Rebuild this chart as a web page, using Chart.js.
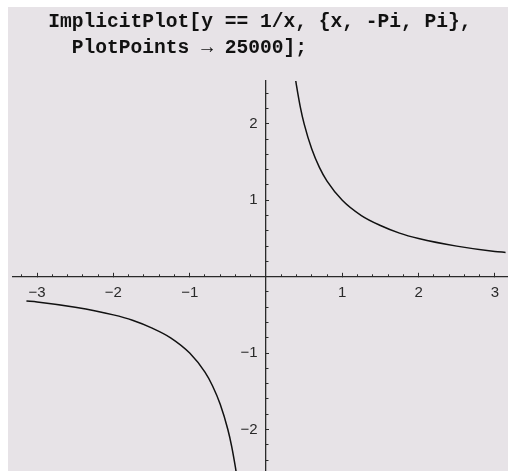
<!DOCTYPE html>
<html>
<head>
<meta charset="utf-8">
<script src="https://cdn.jsdelivr.net/npm/chart.js@4"></script>
<style>
  html, body { margin: 0; padding: 0; background: #ffffff; }
  #wrap { position: absolute; left: 8px; top: 7px; width: 500px; height: 464px; background: #e7e3e7; }
</style>
</head>
<body>
<div id="wrap"><canvas id="c"></canvas></div>
<script>
// ---- data ----
const titleLines = ["   ImplicitPlot[y == 1/x, {x, -Pi, Pi},", "     PlotPoints \u2192 25000];"];

// right branch (x > 0)
const xPos = [0.38, 0.40, 0.45, 0.50, 0.60, 0.70, 0.80, 1.00, 1.25, 1.50, 1.75, 2.00, 2.50, 3.00, 3.14];
const yPos = [2.63, 2.50, 2.22, 2.00, 1.67, 1.43, 1.25, 1.00, 0.80, 0.67, 0.57, 0.50, 0.40, 0.33, 0.318];

// left branch (x < 0)
const xNeg = [-3.14, -3.00, -2.50, -2.00, -1.75, -1.50, -1.25, -1.00, -0.80, -0.70, -0.60, -0.50, -0.45, -0.40, -0.38];
const yNeg = [-0.318, -0.33, -0.40, -0.50, -0.57, -0.67, -0.80, -1.00, -1.25, -1.43, -1.67, -2.00, -2.22, -2.50, -2.63];

// axis ranges and ticks
const xMin = -3.316, xMax = 3.172;
const yMin = -2.543, yMax = 2.561;
const xMajorTicks = [-3, -2, -1, 1, 2, 3];
const yMajorTicks = [-2, -1, 1, 2];
const majorStep = 1, minorStep = 0.2;

// ---- chart ----
const ink = '#2a2a2a';
const labelFont = { family: "'Liberation Sans', Arial, sans-serif", size: 15 };
function fmt(v) {
  const r = Math.round(v * 1000) / 1000;
  return r < 0 ? '\u2212' + (-r) : String(r);
}
function noPad(scale) {
  scale.paddingLeft = 0; scale.paddingRight = 0;
  scale.paddingTop = 0; scale.paddingBottom = 0;
}

new Chart(document.getElementById('c'), {
  type: 'scatter',
  data: {
    datasets: [
      {
        data: xNeg.map((x, i) => ({ x: x, y: yNeg[i] })),
        showLine: true, borderColor: '#111', borderWidth: 1.5,
        pointRadius: 0, cubicInterpolationMode: 'monotone', fill: false
      },
      {
        data: xPos.map((x, i) => ({ x: x, y: yPos[i] })),
        showLine: true, borderColor: '#111', borderWidth: 1.5,
        pointRadius: 0, cubicInterpolationMode: 'monotone', fill: false
      }
    ]
  },
  options: {
    responsive: true,
    maintainAspectRatio: false,
    animation: false,
    events: [],
    layout: { padding: { left: 5, right: 0, top: 0, bottom: 0 } },
    plugins: {
      legend: { display: false },
      tooltip: { enabled: false },
      title: {
        display: true,
        text: titleLines,
        align: 'start',
        color: '#111',
        font: { family: "'Liberation Mono', 'Courier New', monospace", size: 19.6, weight: 'bold', lineHeight: 26 / 19.6 },
        padding: { top: 2, bottom: 20 }
      }
    },
    scales: {
      x: {
        type: 'linear', position: { y: 0 }, min: xMin, max: xMax,
        afterFit: noPad,
        afterBuildTicks: (s) => { s.ticks = xMajorTicks.map(v => ({ value: v })); },
        ticks: { stepSize: majorStep, includeBounds: false, autoSkip: false, maxRotation: 0,
                 padding: 12, color: ink, font: labelFont, callback: (v) => fmt(v) },
        grid: { drawOnChartArea: false, drawTicks: true, tickLength: -4.5, tickColor: ink, tickWidth: 1 },
        border: { display: true, color: ink, width: 1.3 }
      },
      xMinor: {
        type: 'linear', axis: 'x', position: { y: 0 }, min: xMin, max: xMax,
        afterFit: noPad,
        ticks: { stepSize: minorStep, includeBounds: false, display: false },
        grid: { drawOnChartArea: false, drawTicks: true, tickLength: -2.7, tickColor: ink, tickWidth: 1 },
        border: { display: false }
      },
      y: {
        type: 'linear', position: { x: 0 }, min: yMin, max: yMax,
        afterFit: noPad,
        afterBuildTicks: (s) => { s.ticks = yMajorTicks.map(v => ({ value: v })); },
        ticks: { stepSize: majorStep, includeBounds: false, autoSkip: false,
                 color: ink, font: labelFont, callback: (v) => fmt(v) + '  ' },
        grid: { drawOnChartArea: false, drawTicks: true, tickLength: -4, tickColor: ink, tickWidth: 1 },
        border: { display: true, color: ink, width: 1.3 }
      },
      yMinor: {
        type: 'linear', axis: 'y', position: { x: 0 }, min: yMin, max: yMax,
        afterFit: noPad,
        ticks: { stepSize: minorStep, includeBounds: false, display: false },
        grid: { drawOnChartArea: false, drawTicks: true, tickLength: -2.5, tickColor: ink, tickWidth: 1 },
        border: { display: false }
      }
    }
  }
});
</script>
</body>
</html>
